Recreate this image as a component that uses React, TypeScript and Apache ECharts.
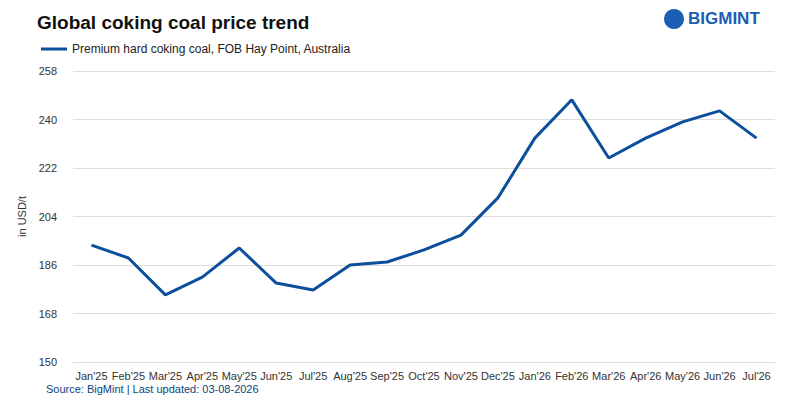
import React, { useEffect, useRef } from "react";
import * as echarts from "echarts";

const categories = ["Jan'25","Feb'25","Mar'25","Apr'25","May'25","Jun'25","Jul'25","Aug'25","Sep'25","Oct'25","Nov'25","Dec'25","Jan'26","Feb'26","Mar'26","Apr'26","May'26","Jun'26","Jul'26"];
const prices = [193.4,188.6,174.9,181.5,192.3,179.3,176.7,186,187.1,191.6,197.1,210.9,233.1,247.3,225.7,233.1,239.1,243.2,233.1];
const seriesName = "Premium hard coking coal, FOB Hay Point, Australia";

export default function App() {
  const ref = useRef<HTMLDivElement>(null);
  useEffect(() => {
    const chart = echarts.init(ref.current!, null, { renderer: "svg" });
    chart.setOption({
      animation: false,
      textStyle: { fontFamily: "Liberation Sans, Arial, sans-serif" },
      title: { text: "Global coking coal price trend", left: 32, top: 8, textStyle: { fontSize: 19, fontWeight: "bold", color: "#111" } },
      legend: { left: 36, top: 38, itemWidth: 26, itemHeight: 3, icon: "rect", textStyle: { fontSize: 12, color: "#222" }, data: [seriesName] },
      grid: { left: 73, right: 25, top: 71, bottom: 38 },
      xAxis: { type: "category", data: categories, boundaryGap: true, axisLine: { show: false }, axisTick: { show: false }, axisLabel: { fontSize: 11, color: "#333", margin: 8, interval: 0 } },
      yAxis: { type: "value", min: 150, max: 258, interval: 18, name: "in USD/t", nameLocation: "middle", nameGap: 36, nameTextStyle: { fontSize: 11, color: "#333" }, axisLabel: { fontSize: 11, color: "#333", margin: 16 }, splitLine: { lineStyle: { color: "#dcdcdc" } } },
      series: [{ name: seriesName, type: "line", data: prices, symbol: "none", lineStyle: { color: "#0d4f9c", width: 3 }, itemStyle: { color: "#0d4f9c" } }],
      graphic: [
        { type: "text", left: 46, top: 383, style: { text: "Source: BigMint | Last updated: 03-08-2026", fontSize: 11, fill: "#0d3f7c", fontFamily: "Liberation Sans, Arial, sans-serif" } },
        { type: "circle", shape: { cx: 674, cy: 19, r: 10 }, style: { fill: "#1a5fb4" } },
        { type: "text", x: 688, y: 10, style: { text: "BIGMINT", fontSize: 17, fontWeight: "bold", fill: "#1a5fb4", fontFamily: "Liberation Sans, Arial, sans-serif" } },
      ],
    });
    return () => chart.dispose();
  }, []);
  return <div ref={ref} style={{ width: 800, height: 400, position: "absolute", left: 0, top: 0 }} />;
}
